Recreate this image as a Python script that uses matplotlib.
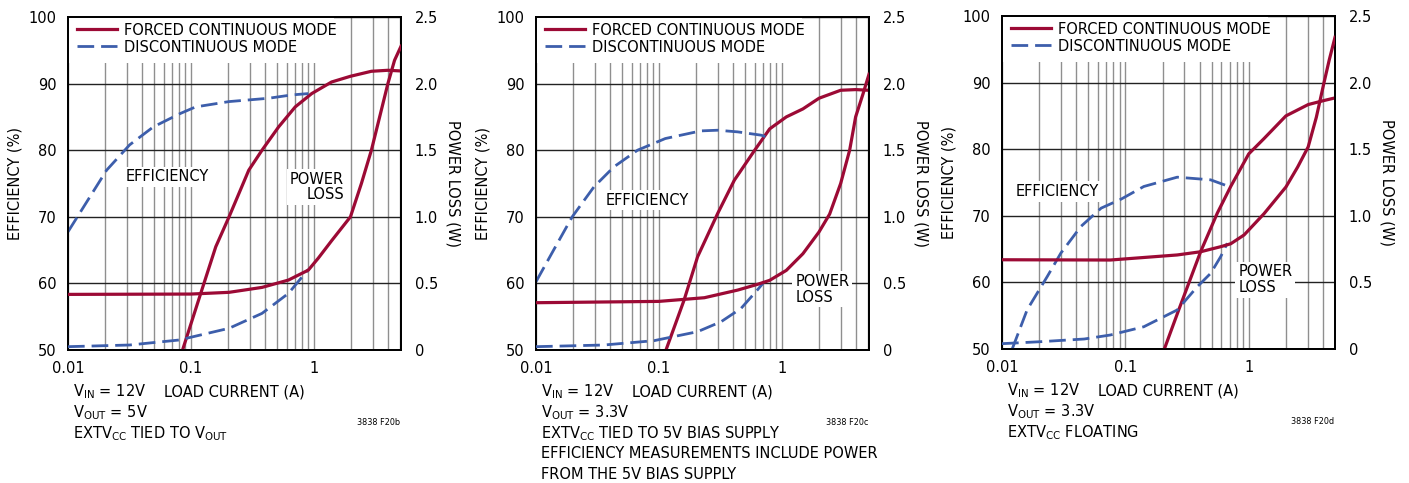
import matplotlib
matplotlib.use('Agg')
import matplotlib.pyplot as plt
from matplotlib import font_manager as fm
from matplotlib.patches import Rectangle
from matplotlib.ticker import FixedLocator, FixedFormatter, NullFormatter, LogLocator

# ---------------- data ----------------
# Panel b : VOUT = 5V
fcm_eff_b_x = [0.0854, 0.12, 0.159, 0.204, 0.295, 0.378, 0.516, 0.704, 0.958, 1.39, 1.98, 2.93, 3.99, 5.1]
fcm_eff_b_y = [50, 58.5, 65.5, 70.0, 77.0, 80.0, 83.5, 86.5, 88.5, 90.24, 91.1, 91.85, 92.0, 91.9]
dcm_eff_b_x = [0.01, 0.0145, 0.0206, 0.0317, 0.0494, 0.0816, 0.109, 0.204, 0.428, 0.66, 0.90]
dcm_eff_b_y = [67.75, 72.5, 77, 80.8, 83.5, 85.5, 86.5, 87.3, 87.8, 88.3, 88.5]
fcm_loss_b_x = [0.01, 0.1, 0.204, 0.378, 0.62, 0.90, 1.085, 1.39, 1.98, 2.43, 2.93, 3.42, 3.99, 4.52, 5.1]
fcm_loss_b_y = [0.4175, 0.42, 0.433, 0.47, 0.525, 0.60, 0.69, 0.82, 1.0, 1.25, 1.5, 1.75, 2.0, 2.175, 2.28]
dcm_loss_b_x = [0.01, 0.0317, 0.080, 0.204, 0.378, 0.62, 0.90]
dcm_loss_b_y = [0.025, 0.0375, 0.075, 0.163, 0.275, 0.425, 0.605]

# Panel c : VOUT = 3.3V, EXTVCC tied to 5V bias
fcm_eff_c_x = [0.114, 0.16, 0.206, 0.30, 0.41, 0.6, 0.794, 1.085, 1.48, 2.0, 3.0, 3.97, 5.1]
fcm_eff_c_y = [50, 57.5, 64, 70.5, 75.5, 80, 83.2, 85.0, 86.2, 87.8, 89.0, 89.1, 89.0]
dcm_eff_c_x = [0.01, 0.0139, 0.0197, 0.0296, 0.043, 0.0669, 0.1125, 0.219, 0.3, 0.437, 0.68, 0.74]
dcm_eff_c_y = [60.25, 65, 70, 74.5, 77.5, 80, 81.75, 82.9, 83, 82.75, 82.25, 82]
fcm_loss_c_x = [0.01, 0.1, 0.234, 0.437, 0.63, 0.794, 1.085, 1.48, 2.0, 2.44, 3.0, 3.55, 3.97, 4.55, 5.1]
fcm_loss_c_y = [0.355, 0.365, 0.3925, 0.45, 0.4925, 0.523, 0.598, 0.723, 0.886, 1.02, 1.25, 1.5, 1.75, 1.92, 2.07]
dcm_loss_c_x = [0.01, 0.0357, 0.0911, 0.206, 0.32, 0.465, 0.63, 0.70]
dcm_loss_c_y = [0.025, 0.0375, 0.07, 0.1375, 0.2125, 0.3125, 0.45, 0.5]

# Panel d : VOUT = 3.3V, EXTVCC floating
fcm_eff_d_x = [0.207, 0.271, 0.407, 0.556, 0.714, 1.0, 1.33, 2.0, 3.03, 4.05, 5.0]
fcm_eff_d_y = [50, 55.9, 64.6, 70.4, 74.4, 79.3, 81.6, 85.0, 86.7, 87.3, 87.7]
dcm_eff_d_x = [0.0121, 0.016, 0.0233, 0.03, 0.0436, 0.0636, 0.0923, 0.141, 0.263, 0.491, 0.69]
dcm_eff_d_y = [50, 55.9, 60.9, 64.4, 68.4, 71.15, 72.5, 74.4, 75.8, 75.4, 74.4]
fcm_loss_d_x = [0.01, 0.0755, 0.263, 0.407, 0.592, 0.714, 0.916, 1.33, 2.0, 2.49, 3.03, 3.53, 4.05, 4.49, 5.0]
fcm_loss_d_y = [0.67, 0.668, 0.706, 0.73, 0.768, 0.79, 0.856, 1.016, 1.216, 1.366, 1.517, 1.74, 1.99, 2.17, 2.34]
dcm_loss_d_x = [0.01, 0.0206, 0.0464, 0.0755, 0.141, 0.263, 0.383, 0.491, 0.592, 0.67]
dcm_loss_d_y = [0.04, 0.055, 0.075, 0.105, 0.167, 0.293, 0.468, 0.568, 0.693, 0.794]

eff_ticks = [50, 60, 70, 80, 90, 100]
loss_ticks = [0, 0.5, 1.0, 1.5, 2.0, 2.5]
loss_labels = ['0', '0.5', '1.0', '1.5', '2.0', '2.5']
x_ticks = [0.01, 0.1, 1]
x_labels = ['0.01', '0.1', '1']
x_max = [5.1, 5.1, 5.0]
legend_labels = ['FORCED CONTINUOUS MODE', 'DISCONTINUOUS MODE']

notes_b = [r'V$_{IN}$ = 12V', r'V$_{OUT}$ = 5V', r'EXTV$_{CC}$ TIED TO V$_{OUT}$']
notes_c = [r'V$_{IN}$ = 12V', r'V$_{OUT}$ = 3.3V', r'EXTV$_{CC}$ TIED TO 5V BIAS SUPPLY',
           'EFFICIENCY MEASUREMENTS INCLUDE POWER', 'FROM THE 5V BIAS SUPPLY']
notes_d = [r'V$_{IN}$ = 12V', r'V$_{OUT}$ = 3.3V', r'EXTV$_{CC}$ FLOATING']
fig_ids = ['3838 F20b', '3838 F20c', '3838 F20d']

# ---------------- fonts ----------------
def pick_font():
    pref = ['Liberation Sans Narrow', 'DejaVu Sans', 'Roboto Condensed', 'Roboto',
            'Open Sans Condensed', 'Open Sans', 'Noto Sans', 'Arial Narrow']
    found = []
    for f in fm.fontManager.ttflist:
        fn = f.fname.lower()
        cond = ('narrow' in fn or 'condensed' in fn or
                str(f.stretch) in ('condensed', 'semi-condensed', 'extra-condensed'))
        bold = any(k in fn for k in ('bold', 'light', 'thin', 'black', 'medium', 'oblique', 'italic'))
        if cond and not bold and f.style == 'normal':
            found.append(f)
    for name in pref:
        for f in found:
            if f.name == name:
                return f
    return found[0] if found else None

cf = pick_font()
if cf is not None:
    family, stretch, narrow = cf.name, cf.stretch, True
else:
    family, stretch, narrow = 'Liberation Sans', 'normal', False

plt.rcParams['font.family'] = [family, 'DejaVu Sans']
plt.rcParams['font.stretch'] = stretch
plt.rcParams['mathtext.fontset'] = 'custom'
plt.rcParams['mathtext.rm'] = ('%s:stretch=%s' % (family, stretch)) if narrow else family
plt.rcParams['mathtext.default'] = 'regular'
plt.rcParams['lines.scale_dashes'] = False
FS = 11.7 if narrow else 10.5

RED = '#9c0a35'
BLUE = '#3d5eab'

W, H = 1409, 483
fig = plt.figure(figsize=(W / 100, H / 100), dpi=100)

panels = [
    dict(left=68, top=17, data=(fcm_eff_b_x, fcm_eff_b_y, dcm_eff_b_x, dcm_eff_b_y,
                                fcm_loss_b_x, fcm_loss_b_y, dcm_loss_b_x, dcm_loss_b_y),
         eff_txt=(0.0296, 76, 'left'), loss_txt=(1.76, 74.5, 'right'), notes=notes_b, fid=fig_ids[0]),
    dict(left=536, top=17, data=(fcm_eff_c_x, fcm_eff_c_y, dcm_eff_c_x, dcm_eff_c_y,
                                 fcm_loss_c_x, fcm_loss_c_y, dcm_loss_c_x, dcm_loss_c_y),
         eff_txt=(0.0368, 72.5, 'left'), loss_txt=(1.28, 59.1, 'left'), notes=notes_c, fid=fig_ids[1]),
    dict(left=1002, top=16, data=(fcm_eff_d_x, fcm_eff_d_y, dcm_eff_d_x, dcm_eff_d_y,
                                  fcm_loss_d_x, fcm_loss_d_y, dcm_loss_d_x, dcm_loss_d_y),
         eff_txt=(0.013, 73.65, 'left'), loss_txt=(0.82, 60.4, 'left'), notes=notes_d, fid=fig_ids[2]),
]

AW, AH = 333, 333
for k, p in enumerate(panels):
    ax = fig.add_axes([p['left'] / W, (H - p['top'] - AH) / H, AW / W, AH / H])
    ax2 = ax.twinx()
    ax.set_xscale('log')
    ax.set_xlim(0.01, x_max[k])
    ax.set_ylim(50, 100)
    ax.set_yticks(eff_ticks)
    ax.xaxis.set_major_locator(FixedLocator(x_ticks))
    ax.xaxis.set_major_formatter(FixedFormatter(x_labels))
    ax.xaxis.set_minor_locator(LogLocator(base=10, subs=[2, 3, 4, 5, 6, 7, 8, 9]))
    ax.xaxis.set_minor_formatter(NullFormatter())
    ax.grid(True, axis='x', which='both', color='#8f8f8f', lw=1.0)
    ax.grid(True, axis='y', which='major', color='#222222', lw=1.0)
    ax.tick_params(which='both', length=0, labelsize=FS, pad=8)
    for s in ax.spines.values():
        s.set_linewidth(1.3)
    ax.text(-0.159, 0.5, 'EFFICIENCY (%)', transform=ax.transAxes, rotation=90,
            fontsize=FS, ha='center', va='center')

    # white area behind the legend
    ax.add_patch(Rectangle((0, 0.862), 0.80, 0.138, transform=ax.transAxes,
                           facecolor='white', edgecolor='none', zorder=1.8))

    fx, fy, dx, dy, flx, fly, dlx, dly = p['data']
    l1, = ax.plot(fx, fy, color=RED, lw=2.3, zorder=3)
    l2, = ax.plot(dx, dy, color=BLUE, lw=2.0, dashes=(12, 5), zorder=3)

    ax2.set_ylim(0, 2.5)
    ax2.set_yticks(loss_ticks)
    ax2.set_yticklabels(loss_labels)
    ax2.tick_params(which='both', length=0, labelsize=FS, pad=10)
    ax2.text(1.156, 0.5, 'POWER LOSS (W)', transform=ax2.transAxes, rotation=-90,
             fontsize=FS, ha='center', va='center')
    for s in ax2.spines.values():
        s.set_linewidth(1.3)
    ax2.plot(dlx, dly, color=BLUE, lw=2.0, dashes=(12, 5), zorder=3)
    ax2.plot(flx, fly, color=RED, lw=2.3, zorder=4)

    ax2.legend([l1, l2], legend_labels, loc='upper left', bbox_to_anchor=(0.009, 1.0),
               borderaxespad=0, frameon=False, fontsize=FS, handlelength=2.5,
               handletextpad=0.43, labelspacing=0.15, borderpad=0.35)

    ex, ey, ha = p['eff_txt']
    ax.text(ex, ey, 'EFFICIENCY', fontsize=FS, ha='left', va='center', zorder=2,
            bbox=dict(facecolor='white', edgecolor='none', pad=2.0))
    lx, ly, lha = p['loss_txt']
    ax.text(lx, ly, 'POWER\nLOSS', fontsize=FS, ha=lha, va='center', multialignment=lha,
            zorder=2, linespacing=1.05, bbox=dict(facecolor='white', edgecolor='none', pad=2.0))

    # bottom annotations
    ax.text(0.5, -0.126, 'LOAD CURRENT (A)', transform=ax.transAxes, fontsize=FS,
            ha='center', va='center')
    for i, line in enumerate(p['notes']):
        ax.text(0.014, -0.126 - 0.062 * i, line, transform=ax.transAxes, fontsize=FS,
                ha='left', va='center')
    ax.text(0.997, -0.219, p['fid'], transform=ax.transAxes, fontsize=6.5,
            ha='right', va='center')

fig.savefig('out.png', dpi=100)
